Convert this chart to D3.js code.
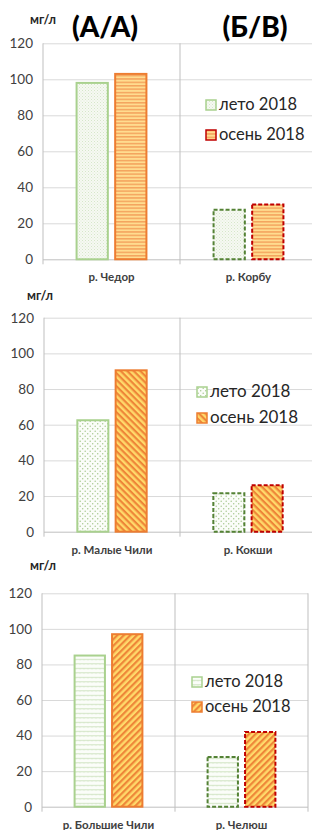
<!DOCTYPE html>
<html>
<head>
<meta charset="utf-8">
<script src="https://cdn.jsdelivr.net/npm/d3@7"></script>
<style>
  body { margin: 0; background: #fff; }
  svg { display: block; font-family: Lato, "Open Sans", sans-serif; }
</style>
</head>
<body>
<div id="chart-area"></div>
<script>
// data
const SERIES = ["лето 2018", "осень 2018"]
const TICKS = [0, 20, 40, 60, 80, 100, 120]
const UNIT = "мг/л"

const cats1 = ["р. Чедор", "р. Корбу"]
const summer1 = [98, 27.5]
const autumn1 = [103, 30.5]
const titles1 = ["(А/А)", "(Б/В)"]

const cats2 = ["р. Малые Чили", "р. Кокши"]
const summer2 = [62.5, 21.5]
const autumn2 = [90.5, 26]

const cats3 = ["р. Большие Чили", "р. Челюш"]
const summer3 = [85, 28]
const autumn3 = [97, 42]

const svg = d3.select("#chart-area").append("svg")
  .attr("width", 312)
  .attr("height", 830)

const defs = svg.append("defs")

// fill patterns
function stripes(id, angle, size, dark, light, w) {
  const p = defs.append("pattern").attr("id", id)
    .attr("patternUnits", "userSpaceOnUse")
    .attr("width", size).attr("height", size)
    .attr("patternTransform", `rotate(${angle})`)
  p.append("rect").attr("width", size).attr("height", size).attr("fill", light)
  p.append("rect").attr("width", size).attr("height", w).attr("fill", dark)
}
stripes("p1o", 0, 3.4, "#f4a45e", "#ffdc8f", 1.5)
stripes("p2o", 45, 4.6, "#ee8638", "#ffd96a", 2.2)
stripes("p3o", -45, 4.6, "#ee8638", "#ffd96a", 2.2)

let p = defs.append("pattern").attr("id", "p1g")
  .attr("patternUnits", "userSpaceOnUse").attr("width", 3).attr("height", 3)
p.append("rect").attr("width", 3).attr("height", 3).attr("fill", "#f6f9f2")
p.append("rect").attr("width", 1).attr("height", 1).attr("fill", "#d6e6ca")
p.append("rect").attr("x", 1.5).attr("y", 1.5).attr("width", 1).attr("height", 1).attr("fill", "#e0ecd6")

p = defs.append("pattern").attr("id", "p2g")
  .attr("patternUnits", "userSpaceOnUse").attr("width", 5).attr("height", 5)
p.append("rect").attr("width", 5).attr("height", 5).attr("fill", "#fbfdf9")
p.append("circle").attr("cx", 1.2).attr("cy", 1.2).attr("r", 0.75).attr("fill", "#a9c992")
p.append("circle").attr("cx", 3.7).attr("cy", 3.7).attr("r", 0.75).attr("fill", "#a9c992")

p = defs.append("pattern").attr("id", "p3g")
  .attr("patternUnits", "userSpaceOnUse").attr("width", 4).attr("height", 4.5)
p.append("rect").attr("width", 4).attr("height", 4.5).attr("fill", "#fbfdf9")
p.append("path").attr("d", "M0,3 L1,1.8 L2,3 L3,1.8 L4,3")
  .attr("fill", "none").attr("stroke", "#bcd7a8").attr("stroke-width", 0.7)

function drawPanel(o) {
  const g = svg.append("g")
  const width = o.catW * o.cats.length

  const x0 = d3.scaleBand().domain(o.cats).range([o.left, o.left + width])
  const x1 = d3.scaleBand().domain(SERIES).range([0, x0.bandwidth()])
    .paddingInner(0.19).paddingOuter(0.87)
  const y = d3.scaleLinear().domain([0, 120]).range([o.bottom, o.top])

  // grid
  g.append("g").attr("transform", `translate(${o.left},0)`)
    .call(d3.axisLeft(y).tickValues(TICKS).tickSize(-width).tickFormat(""))
    .call(a => a.select(".domain").remove())
    .selectAll("line").attr("stroke", d => d === 0 ? "#bfbfbf" : "#d9d9d9")

  // y labels
  g.append("g").attr("transform", `translate(${o.left},0)`)
    .call(d3.axisLeft(y).tickValues(TICKS).tickSize(0).tickPadding(10))
    .call(a => a.select(".domain").remove())
    .selectAll("text")
      .attr("font-family", "Lato, sans-serif")
      .attr("font-size", 13.5)
      .attr("fill", "#404040")

  // category separators
  const seps = o.cats.map(c => x0(c)).concat([o.left + width])
  g.selectAll(".sep").data(seps).enter().append("line")
    .attr("x1", d => d).attr("x2", d => d)
    .attr("y1", o.top).attr("y2", o.bottom + 5)
    .attr("stroke", "#bfbfbf")

  // bars
  const rows = o.cats.map((c, i) => ({ cat: c, i: i, vals: [o.summer[i], o.autumn[i]] }))
  const grp = g.selectAll(".cat").data(rows).enter().append("g")
    .attr("transform", d => `translate(${x0(d.cat)},0)`)
  grp.selectAll("rect")
    .data(d => d.vals.map((v, k) => ({ s: SERIES[k], k: k, v: v, i: d.i })))
    .enter().append("rect")
      .attr("x", d => x1(d.s))
      .attr("width", x1.bandwidth())
      .attr("y", d => y(d.v))
      .attr("height", d => o.bottom - y(d.v))
      .attr("fill", d => `url(#${d.k === 0 ? o.gFill : o.oFill})`)
      .attr("stroke", d => d.i === 0 ? (d.k === 0 ? "#a9d18e" : "#ed7d31") : (d.k === 0 ? "#548235" : "#c00000"))
      .attr("stroke-width", 2)
      .attr("stroke-dasharray", d => d.i === 0 ? null : "4,2")

  // category labels
  g.selectAll(".clab").data(o.cats).enter().append("text")
    .attr("x", d => x0(d) + x0.bandwidth() / 2)
    .attr("y", o.bottom + 22)
    .attr("text-anchor", "middle")
    .attr("font-size", 11.5)
    .attr("font-weight", "bold")
    .attr("fill", "#404040")
    .text(d => d)

  // unit
  g.append("text").attr("x", o.unitX).attr("y", o.unitY)
    .attr("font-size", 12.5).attr("font-weight", "bold").attr("fill", "#262626")
    .text(UNIT)

  // legend
  const leg = g.selectAll(".leg").data(SERIES).enter().append("g")
    .attr("transform", (d, k) => `translate(${o.legX},${o.legY + k * o.legStep})`)
  leg.append("rect")
    .attr("x", 0).attr("y", -10).attr("width", 10).attr("height", 10)
    .attr("fill", (d, k) => `url(#${k === 0 ? o.gFill : o.oFill})`)
    .attr("stroke", (d, k) => k === 0 ? "#a9d18e" : o.legRed)
    .attr("stroke-width", 1.5)
  leg.append("text")
    .attr("x", 13).attr("y", 0)
    .attr("font-size", o.legSize)
    .attr("fill", "#262626")
    .text(d => d)

  if (o.titles) {
    g.selectAll(".ttl").data(o.titles).enter().append("text")
      .attr("x", (d, i) => o.titleX[i])
      .attr("y", 37)
      .attr("text-anchor", "middle")
      .attr("font-size", 28)
      .attr("font-weight", "900")
      .attr("fill", "#000")
      .text(d => d)
  }
}

drawPanel({ cats: cats1, summer: summer1, autumn: autumn1, titles: titles1, titleX: [105, 255],
  left: 43, catW: 137, top: 43.3, bottom: 259.3, unitX: 30, unitY: 24,
  gFill: "p1g", oFill: "p1o", legX: 206, legY: 110, legStep: 30, legSize: 16.5, legRed: "#c00000" })

drawPanel({ cats: cats2, summer: summer2, autumn: autumn2,
  left: 44, catW: 136, top: 317.7, bottom: 531.7, unitX: 27, unitY: 300,
  gFill: "p2g", oFill: "p2o", legX: 197, legY: 397, legStep: 26, legSize: 17, legRed: "#ed7d31" })

drawPanel({ cats: cats3, summer: summer3, autumn: autumn3,
  left: 42, catW: 133, top: 593.3, bottom: 806.7, unitX: 30, unitY: 570,
  gFill: "p3g", oFill: "p3o", legX: 192, legY: 687, legStep: 25, legSize: 16.5, legRed: "#ed7d31" })
</script>
</body>
</html>
